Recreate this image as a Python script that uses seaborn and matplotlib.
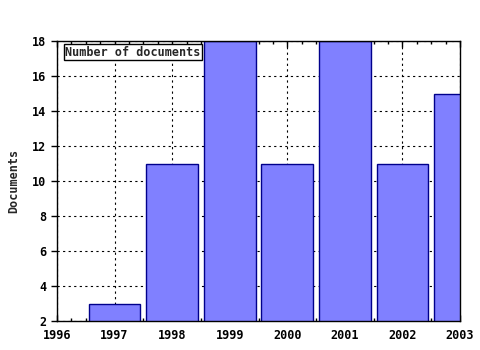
import matplotlib
matplotlib.use("Agg")
import matplotlib.pyplot as plt
from matplotlib.ticker import MultipleLocator
import seaborn as sns
import pandas as pd

years = [1997, 1998, 1999, 2000, 2001, 2002, 2003]
documents = [3, 11, 18, 11, 18, 11, 15]
x_ticks = [1996, 1997, 1998, 1999, 2000, 2001, 2002, 2003]
y_ticks = [2, 4, 6, 8, 10, 12, 14, 16, 18]
legend_label = "Number of documents"
y_label = "Documents"

sns.set_style("white")
plt.rcParams['font.family'] = ['DejaVu Sans Mono']
plt.rcParams['font.weight'] = 'bold'

df = pd.DataFrame({"year": years, "docs": documents})

fig = plt.figure(figsize=(4.8, 3.5), dpi=100)
ax = fig.add_axes([57/480, 1 - 321/350, (460 - 57)/480, (321 - 41)/350])

sns.barplot(data=df, x="year", y="docs", native_scale=True, width=0.9,
            color="#8080ff", saturation=1, edgecolor="#00008b", linewidth=1,
            ax=ax, zorder=2)

ax.set_xlim(1996, 2003)
ax.set_ylim(2, 18)
ax.set_xticks(x_ticks)
ax.set_xticklabels([str(v) for v in x_ticks], fontsize=8.5, fontweight='bold')
ax.set_yticks(y_ticks)
ax.set_yticklabels([str(v) for v in y_ticks], fontsize=8.5, fontweight='bold')
ax.xaxis.set_minor_locator(MultipleLocator(0.25))
ax.tick_params(axis='x', which='both', direction='in', top=True, bottom=True, length=4, width=1, pad=6, colors='black')
ax.tick_params(axis='x', which='minor', length=2)
ax.tick_params(axis='y', which='major', direction='out', left=True, length=4, width=1, colors='black')
ax.set_xlabel("")
ax.set_ylabel(y_label, fontsize=8.5, fontweight='bold', labelpad=9)
ax.grid(True, which='major', linestyle=(0, (2, 3)), color='black', linewidth=0.8, zorder=0)
ax.set_axisbelow(True)
for s in ax.spines.values():
    s.set_visible(True)
    s.set_color('black')
    s.set_linewidth(1)

ax.text(0.02, 0.983, legend_label, transform=ax.transAxes, fontsize=8.5, fontweight='bold',
        va='top', ha='left', zorder=5,
        bbox=dict(boxstyle='square,pad=0.12', facecolor='white', edgecolor='black', linewidth=1))

fig.savefig("out.png", dpi=100)
